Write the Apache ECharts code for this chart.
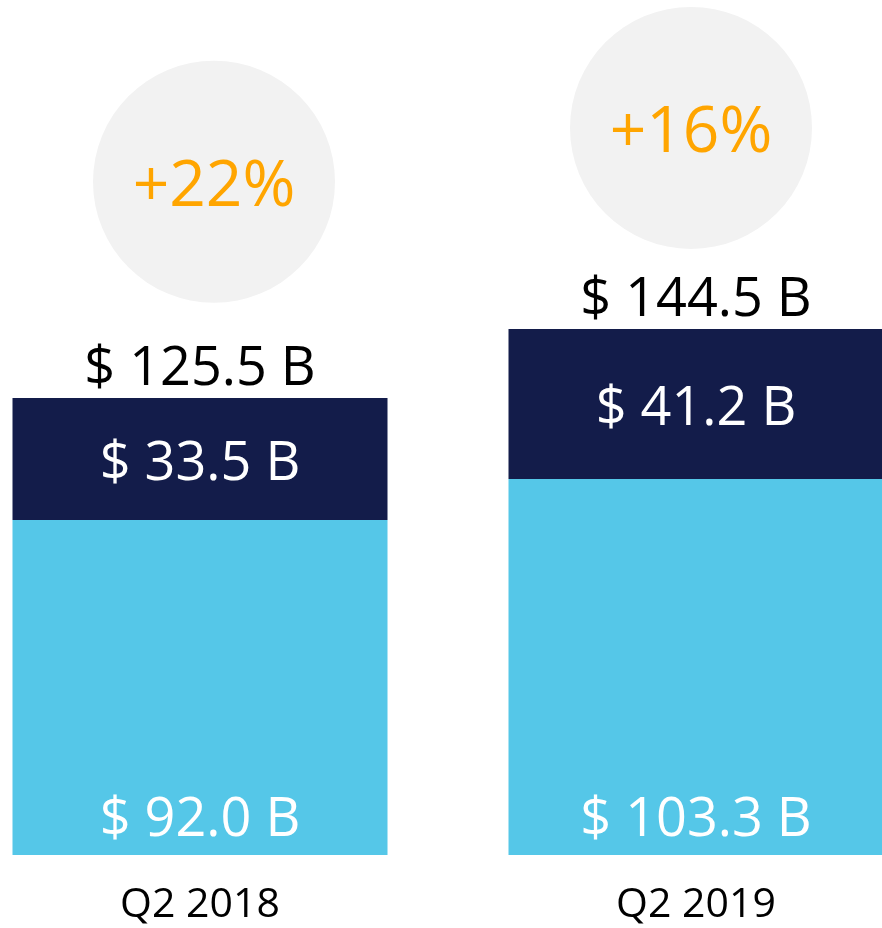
<!DOCTYPE html>
<html>
<head>
<meta charset="utf-8">
<script src="https://cdn.jsdelivr.net/npm/echarts@6/dist/echarts.min.js"></script>
<style>
  html, body { margin: 0; padding: 0; background: #fff; }
  #main { width: 882px; height: 928px; }
</style>
</head>
<body>
<div id="main"></div>
<script>
// 数据
var quarters = ['Q2 2018', 'Q2 2019'];
var baseValues = [92.0, 103.3];      // 浅蓝色部分
var topValues = [33.5, 41.2];        // 深蓝色部分
var totals = [125.5, 144.5];
var growth = ['+22%', '+16%'];
var circleLevels = [184.9, 199.7];   // 圆圈中心的高度

var font = '"Source Sans Pro", "Open Sans", sans-serif';

var myChart = echarts.init(document.getElementById('main'));

function money(v) {
    return '$ ' + v.toFixed(1) + ' B';
}

var option = {
    animation: false,
    grid: { left: -48, right: -62, top: 54, bottom: 73, outerBoundsMode: 'none', containLabel: false },
    xAxis: {
        type: 'category',
        data: quarters,
        axisLine: { show: false },
        axisTick: { show: false },
        axisLabel: { color: '#000', fontSize: 41, fontFamily: font, margin: 30 }
    },
    yAxis: {
        type: 'value',
        min: 0,
        max: 220,
        show: false,
        splitLine: { show: false }
    },
    series: [{
        type: 'bar',
        stack: 'rev',
        barWidth: 375,
        data: baseValues,
        itemStyle: { color: '#55c7e8' },
        label: {
            show: true,
            position: 'insideBottom',
            distance: 10,
            offset: [0, 3],
            color: '#fff',
            fontSize: 54,
            fontFamily: font,
            formatter: function (p) { return money(p.value); }
        }
    }, {
        type: 'bar',
        stack: 'rev',
        barWidth: 375,
        data: topValues,
        itemStyle: { color: '#131c4a' },
        label: {
            show: true,
            position: 'inside',
            offset: [0, 6],
            color: '#fff',
            fontSize: 54,
            fontFamily: font,
            formatter: function (p) { return money(p.value); }
        }
    }, {
        // 总额标签
        type: 'scatter',
        data: totals,
        symbolSize: 0,
        clip: false,
        itemStyle: { opacity: 1 },
        label: {
            show: true,
            position: 'top',
            distance: 4,
            offset: [0, 3],
            color: '#000',
            fontSize: 54,
            fontFamily: font,
            formatter: function (p) { return money(p.value); }
        }
    }, {
        // 增长率圆圈
        type: 'scatter',
        clip: false,
        symbolSize: 242,
        data: circleLevels.map(function (v, i) {
            return { value: v, symbolOffset: [i === 0 ? 14 : -5, 0] };
        }),
        itemStyle: { color: '#f2f2f2', opacity: 1 },
        label: {
            show: true,
            position: 'inside',
            offset: [0, 6],
            color: '#ffa500',
            fontSize: 64,
            fontFamily: font,
            formatter: function (p) { return growth[p.dataIndex]; }
        }
    }]
};

myChart.setOption(option);
</script>
</body>
</html>
